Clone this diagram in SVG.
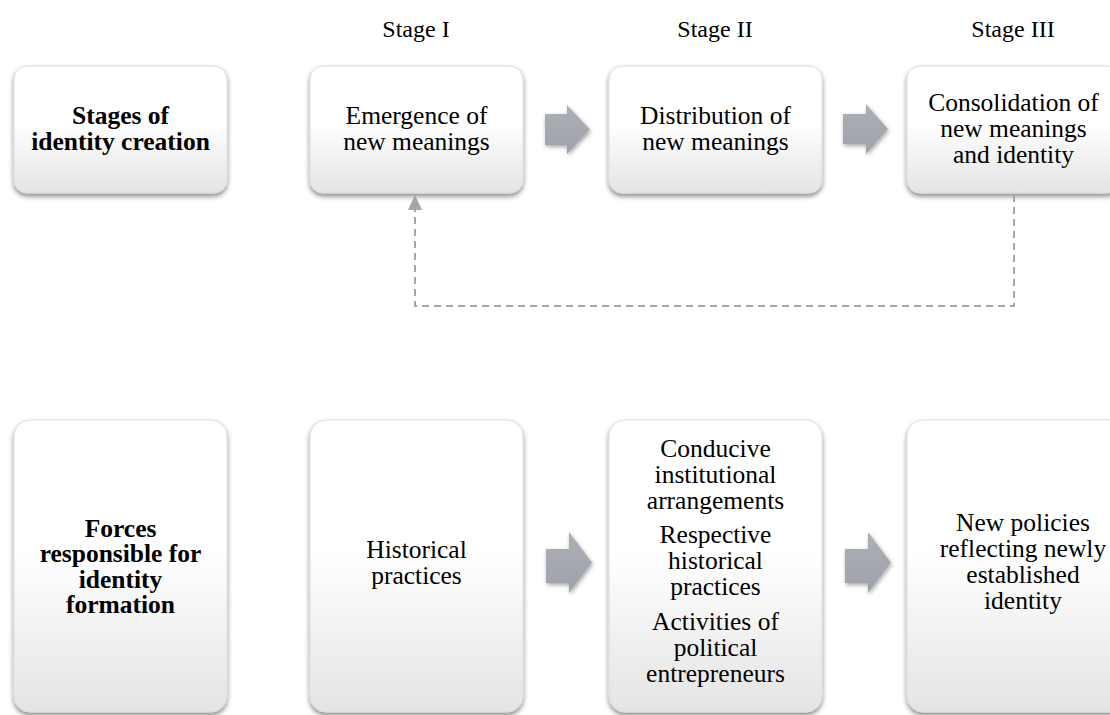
<svg xmlns="http://www.w3.org/2000/svg" width="1110" height="715" viewBox="0 0 1110 715">
<defs>
<linearGradient id="boxGrad" x1="0" y1="0" x2="0" y2="1">
<stop offset="0" stop-color="#ffffff"/>
<stop offset="0.45" stop-color="#ffffff"/>
<stop offset="1" stop-color="#e4e4e4"/>
</linearGradient>
<linearGradient id="arrGrad" x1="0" y1="0" x2="0" y2="1">
<stop offset="0" stop-color="#acafb6"/>
<stop offset="1" stop-color="#9fa2aa"/>
</linearGradient>
<filter id="shadow" x="-10%" y="-10%" width="120%" height="130%">
<feDropShadow dx="0" dy="3" stdDeviation="2.5" flood-color="#000" flood-opacity="0.45"/>
</filter>
<filter id="ashadow" x="-20%" y="-20%" width="150%" height="150%">
<feDropShadow dx="1" dy="2" stdDeviation="2" flood-color="#000" flood-opacity="0.35"/>
</filter>
<marker id="head" viewBox="0 0 14 14" refX="7" refY="0" markerWidth="14" markerHeight="14" markerUnits="userSpaceOnUse" orient="auto-start-reverse">
<path d="M0,14 L7,0 L14,14 Z" fill="#a6a6a6"/>
</marker>
</defs>
<style>
.box{fill:url(#boxGrad);stroke:#dcdcdc;stroke-width:1;filter:url(#shadow)}
.arr{fill:url(#arrGrad);filter:url(#ashadow)}
text{font-family:"Liberation Serif","Times New Roman",serif;fill:#000;text-anchor:middle}
.t{font-size:25.5px}
.b{font-size:25.5px;font-weight:bold}
.st{font-size:24px}
.dash{fill:none;stroke:#a6a6a6;stroke-width:2;stroke-dasharray:7,5}
</style>
<rect width="1110" height="715" fill="#ffffff"/>

<g id="stage-labels">
<text class="st" x="416" y="37">Stage I</text>
<text class="st" x="715" y="37">Stage II</text>
<text class="st" x="1013" y="37">Stage III</text>
</g>

<g id="node-stages">
<rect class="box" x="14" y="66" width="213" height="127" rx="13"/>
<text class="b" x="120.5" y="124">Stages of</text>
<text class="b" x="120.5" y="150">identity creation</text>
</g>
<g id="node-emergence">
<rect class="box" x="310" y="66" width="213" height="127" rx="13"/>
<text class="t" x="416.5" y="124">Emergence of</text>
<text class="t" x="416.5" y="150">new meanings</text>
</g>
<g id="node-distribution">
<rect class="box" x="609" y="66" width="213" height="127" rx="13"/>
<text class="t" x="715.5" y="124">Distribution of</text>
<text class="t" x="715.5" y="150">new meanings</text>
</g>
<g id="node-consolidation">
<rect class="box" x="907" y="66" width="213" height="127" rx="13"/>
<text class="t" x="1013.5" y="111">Consolidation of</text>
<text class="t" x="1013.5" y="137">new meanings</text>
<text class="t" x="1013.5" y="163">and identity</text>
</g>

<g id="node-forces">
<rect class="box" x="14" y="420" width="213" height="292" rx="16"/>
<text class="b" x="120.5" y="537">Forces</text>
<text class="b" x="120.5" y="562">responsible for</text>
<text class="b" x="120.5" y="588">identity</text>
<text class="b" x="120.5" y="613">formation</text>
</g>
<g id="node-historical">
<rect class="box" x="310" y="420" width="213" height="292" rx="16"/>
<text class="t" x="416.5" y="558">Historical</text>
<text class="t" x="416.5" y="584">practices</text>
</g>
<g id="node-conducive">
<rect class="box" x="609" y="420" width="213" height="292" rx="16"/>
<text class="t" x="715.5" y="457">Conducive</text>
<text class="t" x="715.5" y="483">institutional</text>
<text class="t" x="715.5" y="509">arrangements</text>
<text class="t" x="715.5" y="543">Respective</text>
<text class="t" x="715.5" y="569">historical</text>
<text class="t" x="715.5" y="595">practices</text>
<text class="t" x="715.5" y="630">Activities of</text>
<text class="t" x="715.5" y="656">political</text>
<text class="t" x="715.5" y="682">entrepreneurs</text>
</g>
<g id="node-newpolicies">
<rect class="box" x="907" y="420" width="230" height="292" rx="16"/>
<text class="t" x="1023" y="531">New policies</text>
<text class="t" x="1023" y="557">reflecting newly</text>
<text class="t" x="1023" y="583">established</text>
<text class="t" x="1023" y="609">identity</text>
</g>

<g id="connectors">
<path class="arr" d="M545,114 H567 V105 L590,129.5 L567,154 V145 H545 Z"/>
<path class="arr" d="M843,114 H866 V104 L888,129 L866,154 V144 H843 Z"/>
<path class="arr" d="M546,549 H569 V532 L592,562.5 L569,593 V583 H546 Z"/>
<path class="arr" d="M845,549 H868 V532 L891,562.5 L868,593 V583 H845 Z"/>
<path class="dash" d="M1014,195 V306 H415 V209"/>
<path d="M408,210 L415,195 L422,210 Z" fill="#a6a6a6"/>
</g>
</svg>
